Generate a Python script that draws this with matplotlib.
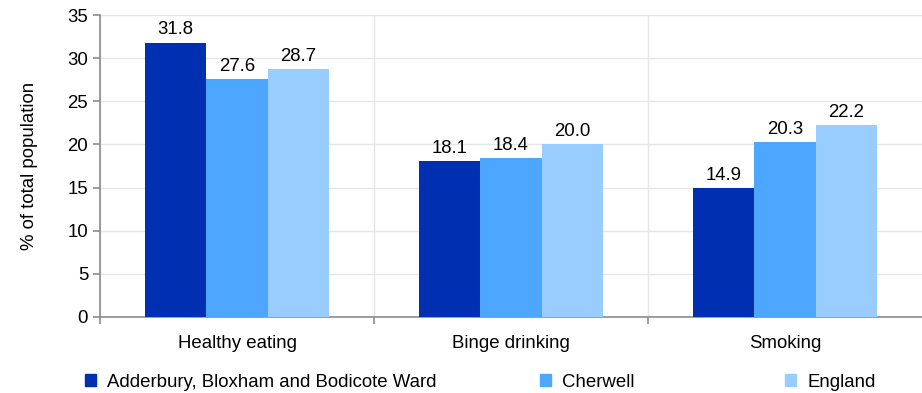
import matplotlib.pyplot as plt
from matplotlib.patches import Patch
import numpy as np

plt.rcParams['font.family'] = ['Liberation Sans', 'DejaVu Sans']

categories = ["Healthy eating", "Binge drinking", "Smoking"]
series_names = ["Adderbury, Bloxham and Bodicote Ward", "Cherwell", "England"]
ward = [31.8, 18.1, 14.9]
cherwell = [27.6, 18.4, 20.3]
england = [28.7, 20.0, 22.2]
colors = ["#002FB1", "#4DA6FF", "#99CCFF"]

fs = 13.4

fig = plt.figure(figsize=(9.22, 3.93), dpi=100)
ax = fig.add_axes([0.1085, 0.1934, 0.8915, 0.7684])

x = np.arange(len(categories))
w = 0.224
for i, (vals, c) in enumerate(zip([ward, cherwell, england], colors)):
    bars = ax.bar(x + (i - 1) * w, vals, w, color=c, zorder=3)
    ax.bar_label(bars, fmt="%.1f", padding=3, fontsize=fs)

ax.set_xlim(-0.5, 2.5)
ax.set_ylim(0, 35)
ax.set_yticks(range(0, 36, 5))
ax.set_xticks(x)
ax.set_xticklabels(categories, fontsize=fs)
ax.set_xticks([-0.5, 0.5, 1.5], minor=True)
ax.tick_params(axis='x', which='major', length=0, pad=13)
ax.tick_params(axis='x', which='minor', length=5, color='#8c8c8c', width=1.2)
ax.tick_params(axis='y', length=5, color='#8c8c8c', width=1.2, labelsize=fs)
ax.grid(axis='y', color='#e6e6e6', linewidth=1, zorder=0)
ax.grid(axis='x', which='minor', color='#e6e6e6', linewidth=1, zorder=0)
for s in ['top', 'right']:
    ax.spines[s].set_visible(False)
for s in ['left', 'bottom']:
    ax.spines[s].set_color('#8c8c8c')
    ax.spines[s].set_linewidth(1.2)
ax.set_ylabel("% of total population", fontsize=fs, labelpad=21)

legend_x = [0.092, 0.5856, 0.8515]
for name, c, lx in zip(series_names, colors, legend_x):
    fig.legend(handles=[Patch(color=c, label=name)], loc='center left',
               bbox_to_anchor=(lx, 0.027), frameon=False, fontsize=fs,
               handlelength=0.6, handleheight=0.6, handletextpad=0.6,
               borderaxespad=0, borderpad=0)

fig.savefig("out.png", dpi=100)
